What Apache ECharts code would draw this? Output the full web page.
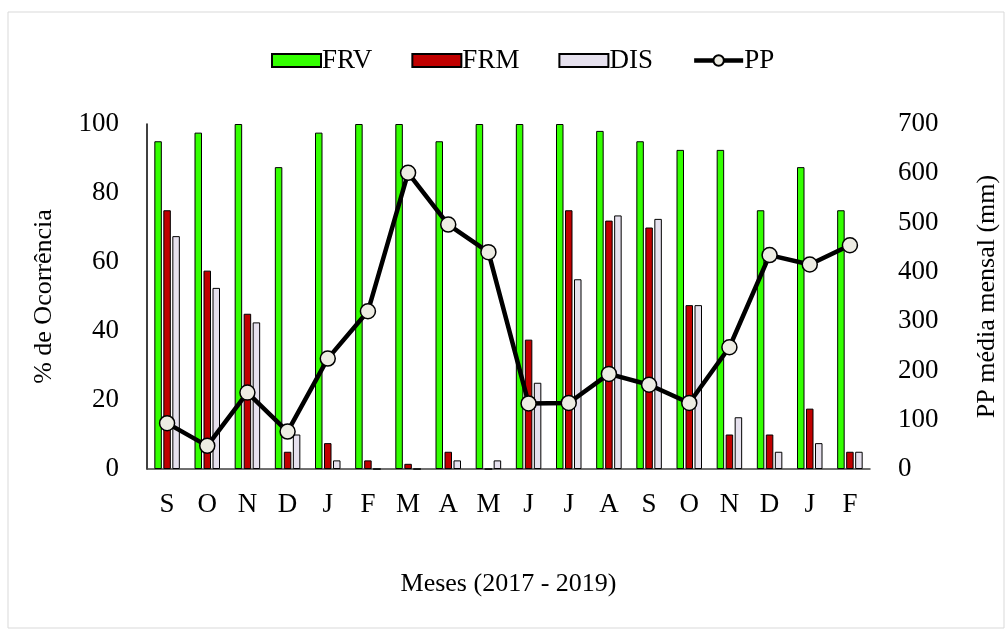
<!DOCTYPE html>
<html>
<head>
<meta charset="utf-8">
<script src="https://cdn.jsdelivr.net/npm/echarts@6/dist/echarts.min.js"></script>
<style>
html, body { margin: 0; padding: 0; background: #fff; }
#chart { width: 1008px; height: 629px; }
</style>
</head>
<body>
<div id="chart"></div>
<script>
const months = ['S', 'O', 'N', 'D', 'J', 'F', 'M', 'A', 'M', 'J', 'J', 'A', 'S', 'O', 'N', 'D', 'J', 'F'];
const frv = [95, 97.5, 100, 87.5, 97.5, 100, 100, 95, 100, 100, 100, 98, 95, 92.5, 92.5, 75, 87.5, 75];
const frm = [75, 57.5, 45, 5, 7.5, 2.5, 1.5, 5, 0, 37.5, 75, 72, 70, 47.5, 10, 10, 17.5, 5];
const dis = [67.5, 52.5, 42.5, 10, 2.5, 0, 0, 2.5, 2.5, 25, 55, 73.5, 72.5, 47.5, 15, 5, 7.5, 5];
const pp = [93, 47, 155, 76, 224, 320, 601, 496, 440, 133, 134, 193, 171, 134, 247, 434, 415, 454];

const fontFam = '"Liberation Serif", "Times New Roman", serif';

const chart = echarts.init(document.getElementById('chart'));

function barSeries(name, data, color) {
	return {
		name: name,
		type: 'bar',
		data: data,
		barWidth: 7.5,
		barGap: '20%',
		itemStyle: { color: color, borderColor: '#000', borderWidth: 1 }
	};
}

chart.setOption({
	animation: false,
	textStyle: { fontFamily: fontFam },
	graphic: [{
		type: 'rect',
		shape: { x: 8, y: 12, width: 996, height: 616 },
		style: { fill: 'none', stroke: '#d9d9d9', lineWidth: 1 }
	}],
	legend: {
		top: 42,
		left: 266,
		itemWidth: 49,
		itemHeight: 13,
		itemGap: 39,
		textStyle: { fontFamily: fontFam, fontSize: 27, color: '#000', padding: [0, 0, 0, -4] },
		data: [
			{ name: 'FRV', icon: 'rect' },
			{ name: 'FRM', icon: 'rect' },
			{ name: 'DIS', icon: 'rect' },
			{ name: 'PP', lineStyle: { width: 4.5 } }
		]
	},
	grid: { left: 147, right: 134, top: 124, bottom: 160 },
	xAxis: {
		type: 'category',
		data: months,
		name: 'Meses (2017 - 2019)',
		nameLocation: 'middle',
		nameGap: 102,
		nameTextStyle: { fontFamily: fontFam, fontSize: 26, color: '#000' },
		axisLine: { lineStyle: { color: '#404040', width: 1.5 } },
		axisTick: { show: false },
		axisLabel: { fontFamily: fontFam, fontSize: 27, color: '#000', margin: 22 }
	},
	yAxis: [{
		type: 'value',
		min: 0,
		max: 100,
		interval: 20,
		name: '% de Ocorrência',
		nameLocation: 'middle',
		nameGap: 90,
		nameTextStyle: { fontFamily: fontFam, fontSize: 26, color: '#000' },
		axisLine: { show: true, lineStyle: { color: '#000', width: 1.5 } },
		axisTick: { show: false },
		splitLine: { show: false },
		axisLabel: { fontFamily: fontFam, fontSize: 27, color: '#000', margin: 28 }
	}, {
		type: 'value',
		min: 0,
		max: 700,
		interval: 100,
		name: 'PP média mensal (mm)',
		nameLocation: 'middle',
		nameGap: 104,
		nameTextStyle: { fontFamily: fontFam, fontSize: 26, color: '#000' },
		axisLine: { show: false },
		axisTick: { show: false },
		splitLine: { show: false },
		axisLabel: { fontFamily: fontFam, fontSize: 27, color: '#000', margin: 28 }
	}],
	series: [
		barSeries('FRV', frv, '#33ff00'),
		barSeries('FRM', frm, '#c00000'),
		barSeries('DIS', dis, '#e6e1ee'),
		{
			name: 'PP',
			type: 'line',
			yAxisIndex: 1,
			data: pp,
			symbol: 'circle',
			symbolSize: 15,
			lineStyle: { color: '#000', width: 4.5 },
			itemStyle: { color: '#edece3', borderColor: '#000', borderWidth: 1.5 }
		}
	]
});
</script>
</body>
</html>
